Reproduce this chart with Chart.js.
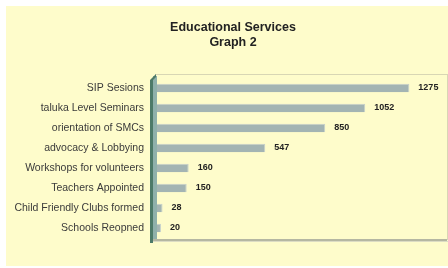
<!DOCTYPE html>
<html><head><meta charset="utf-8">
<script src="https://cdn.jsdelivr.net/npm/chart.js@4/dist/chart.umd.min.js"></script>
<style>html,body{margin:0;padding:0;background:#fff}#wrap{width:448px;height:268px}</style>
</head><body><div id="wrap"><canvas id="c" width="448" height="268"></canvas></div>
<script>
const categories = ["SIP Sesions","taluka Level Seminars","orientation of SMCs","advocacy & Lobbying","Workshops for volunteers","Teachers Appointed","Child Friendly Clubs formed","Schools Reopned"];
const values = [1275, 1052, 850, 547, 160, 150, 28, 20];
const titleLines = ["Educational Services","Graph 2"];

const cream = '#fefccb';
const FONT = '"Liberation Sans", Arial, sans-serif';
const bgPlugin = {
  id:'bg',
  beforeDraw(chart){
    const ctx = chart.ctx;
    ctx.save();
    ctx.fillStyle = '#ffffff';
    ctx.fillRect(0,0,chart.width,chart.height);
    ctx.fillStyle = cream;
    ctx.fillRect(6,6,442,260);
    const a = chart.chartArea;
    // title
    ctx.fillStyle = '#222';
    ctx.font = 'bold 12.5px ' + FONT;
    ctx.textAlign = 'center';
    ctx.textBaseline = 'middle';
    ctx.fillText(titleLines[0], 233, 28);
    ctx.fillText(titleLines[1], 233, 43);
    // plot frame
    ctx.strokeStyle = '#d8d6b4';
    ctx.lineWidth = 1;
    ctx.strokeRect(a.left-1.5, a.top-3.5, a.right-a.left+5, a.bottom-a.top+5);
    // floor
    ctx.fillStyle = '#b5b7a2';
    ctx.fillRect(a.left-6, a.bottom+1, a.right-a.left+9, 2);
    ctx.fillStyle = '#dcdcc4';
    ctx.fillRect(a.left-4, a.bottom+3, a.right-a.left+8, 1);
    // left wall
    ctx.fillStyle = '#8fb0aa';
    ctx.fillRect(a.left-4, a.top-2, 4, a.bottom-a.top+3);
    ctx.fillStyle = '#4d7a68';
    ctx.fillRect(a.left-7, a.top+2, 3, a.bottom-a.top+3);
    ctx.beginPath();
    ctx.moveTo(a.left-7,a.top+2); ctx.lineTo(a.left-1,a.top-4); ctx.lineTo(a.left-1,a.top-1); ctx.lineTo(a.left-4,a.top+2); ctx.fill();
    ctx.restore();
  },
  afterDatasetsDraw(chart){
    const ctx = chart.ctx;
    const meta = chart.getDatasetMeta(0);
    ctx.save();
    ctx.font = 'bold 9px ' + FONT;
    ctx.textBaseline = 'middle';
    ctx.fillStyle = '#222';
    meta.data.forEach((bar,i)=>{
      ctx.fillText(String(values[i]), bar.x+9, bar.y);
    });
    ctx.restore();
  }
};

new Chart(document.getElementById('c'), {
  type:'bar',
  data:{labels:categories, datasets:[{data:values, backgroundColor:'#a3b4b3', borderColor:'#c6d0cc', borderWidth:{top:1,right:1,bottom:0,left:0}, barPercentage:0.42, categoryPercentage:1}]},
  options:{
    indexAxis:'y', responsive:false, animation:false, devicePixelRatio:1,
    layout:{padding:{left:6,right:4,top:78,bottom:30}},
    plugins:{
      legend:{display:false}, tooltip:{enabled:false}, title:{display:false}
    },
    scales:{
      x:{display:false, min:0, max:1450},
      y:{grid:{display:false}, border:{display:false},
         ticks:{color:'#3a3a3a', font:{family:FONT, size:10.5}, padding:5},
         afterFit(s){ s.width = 151; }}
    }
  },
  plugins:[bgPlugin]
});
</script></body></html>
